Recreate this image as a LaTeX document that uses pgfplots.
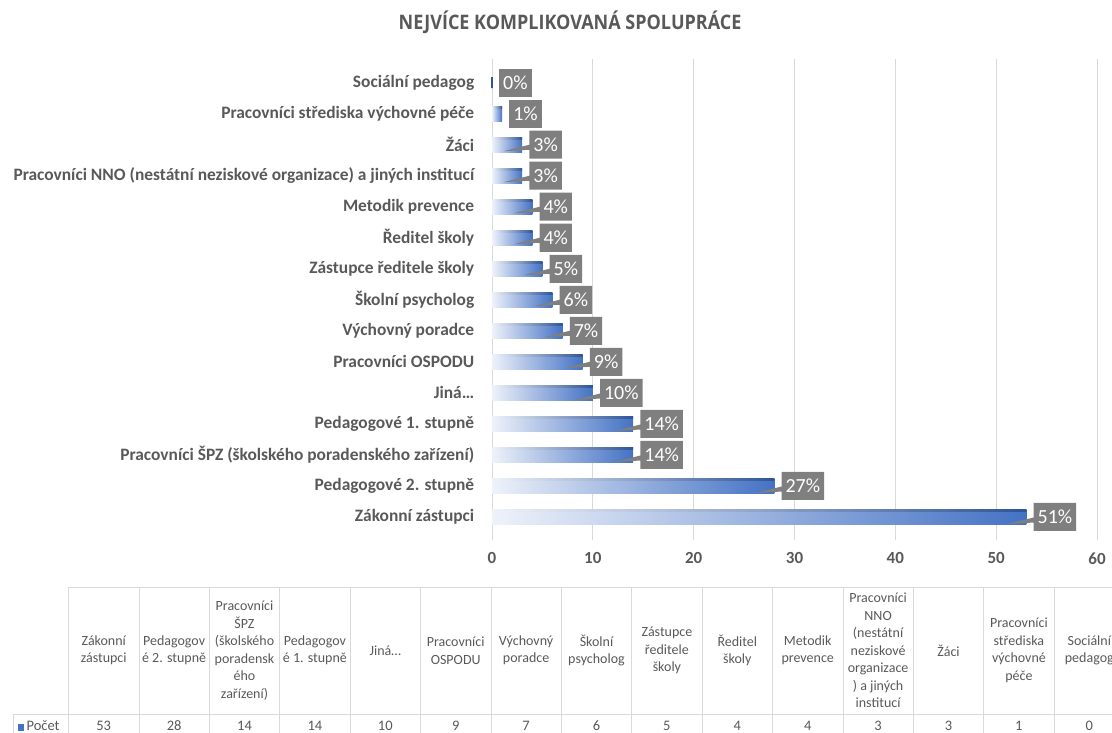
\documentclass[border=0pt]{standalone}
\usepackage{fontspec}
\setmainfont{Carlito}
\newfontfamily\titlefont[FakeStretch=0.9]{Open Sans}
\usepackage{pgfplots}
\pgfplotsset{compat=1.18}
\usepackage{pgfplotstable}
\usetikzlibrary{shapes.callouts}

\definecolor{barblue}{HTML}{4472C4}
\definecolor{barlight}{HTML}{EEF2FA}
\definecolor{bardark}{HTML}{2F5597}
\definecolor{txtgray}{HTML}{595959}
\definecolor{boxgray}{HTML}{7F7F7F}
\definecolor{gridgray}{HTML}{D9D9D9}

% label; count; percent of respondents
\pgfplotstableread[col sep=semicolon]{
label;value;pct
Zákonní zástupci;53;51
Pedagogové 2. stupně;28;27
Pracovníci ŠPZ (školského poradenského zařízení);14;14
Pedagogové 1. stupně;14;14
Jiná…;10;10
Pracovníci OSPODU;9;9
Výchovný poradce;7;7
Školní psycholog;6;6
Zástupce ředitele školy;5;5
Ředitel školy;4;4
Metodik prevence;4;4
Pracovníci NNO (nestátní neziskové organizace) a jiných institucí;3;3
Žáci;3;3
Pracovníci střediska výchovné péče;1;1
Sociální pedagog;0;0
}\data

\pgfplotsset{
  pctlabel/.style={draw=none, fill=none, bar shift=0pt,
    point meta=explicit,
    nodes near coords={\pgfmathprintnumber{\pgfplotspointmeta}\%},
    every node near coord/.append style={shape=rectangle callout,
        callout relative pointer={(-26pt,-4pt)}, callout pointer width=5pt,
        fill=boxgray, text=white,
        font=\fontsize{20}{20}\selectfont, anchor=west, xshift=7pt,
        inner xsep=4pt, minimum height=28pt}},
}

\begin{document}
\begin{tikzpicture}
\path[use as bounding box] (0pt,0pt) rectangle (1112pt,-733pt);

\node[font=\titlefont\bfseries\fontsize{20}{20}\selectfont, text=txtgray] at (570pt,-22pt) {NEJVÍCE KOMPLIKOVANÁ SPOLUPRÁCE};

\begin{axis}[
    at={(492pt,-540pt)}, anchor=south west, scale only axis,
    width=605pt, height=480.5pt,
    xbar, bar width=15pt,
    xmin=0, xmax=60, ymin=-0.75, ymax=14.75,
    xtick={0,10,...,60}, ytick={0,...,14},
    yticklabels from table={\data}{label},
    axis line style={draw=none}, major tick style={draw=none},
    xmajorgrids, grid style={gridgray, line width=0.8pt},
    /pgf/number format/assume math mode=true,
    xticklabel style={font=\bfseries\fontsize{17}{17}\selectfont, text=txtgray, yshift=-9pt},
    yticklabel style={font=\bfseries\fontsize{17.4}{17.4}\selectfont, text=txtgray, xshift=-10pt},
    clip=false,
]
% one plot per bar so that each bar gets its own gradient
\pgfplotsinvokeforeach{0,...,13}{
  \addplot[draw=none, bar shift=0pt, left color=barlight, middle color=barblue, right color=barblue]
    table[x=value, y expr=\coordindex, restrict expr to domain={\coordindex}{#1:#1}] {\data};
  \addplot[draw=none, bar shift=6.25pt, bar width=2.5pt, left color=barlight, middle color=bardark!80!barblue, right color=bardark]
    table[x=value, y expr=\coordindex, restrict expr to domain={\coordindex}{#1:#1}] {\data};
}
% zero bar: only a thin sliver
\addplot[fill=barblue, draw=bardark, line width=1.5pt, bar shift=0pt, bar width=11pt]
  table[x=value, y expr=\coordindex, restrict expr to domain={\coordindex}{14:14}] {\data};
% percentage labels (callouts); the two smallest as plain boxes
\addplot[pctlabel]
  table[x=value, y expr=\coordindex, meta=pct, restrict expr to domain={\coordindex}{0:12}] {\data};
\addplot[pctlabel, every node near coord/.append style={shape=rectangle}]
  table[x=value, y expr=\coordindex, meta=pct, restrict expr to domain={\coordindex}{13:14}] {\data};
\end{axis}

% data table under the chart
\begin{axis}[
    at={(68.5pt,-745pt)}, anchor=south west, scale only axis,
    width=1056pt, height=158pt,
    xmin=0, xmax=15, ymin=-745, ymax=-587,
    hide axis, clip=false,
    /pgf/number format/assume math mode=true,
    point meta=explicit,
    nodes near coords={\pgfmathprintnumber{\pgfplotspointmeta}},
    every node near coord/.append style={anchor=center,
        font=\fontsize{14.5}{14.5}\selectfont, text=txtgray},
]
\addplot[draw=none, mark=none] table[x expr=\coordindex+0.5, y expr=-726, meta=value] {\data};
\end{axis}

\begin{scope}[gridgray, line width=0.8pt]
  \draw (68.5pt,-587pt) -- (1125pt,-587pt);
  \draw (13pt,-714pt) -- (1125pt,-714pt);
  \draw (13pt,-714pt) -- (13pt,-745pt);
  \foreach \k in {0,...,15}
    \draw ({(68.5+70.4*\k)*1pt},-587pt) -- ({(68.5+70.4*\k)*1pt},-745pt);
\end{scope}

\foreach \t [count=\i from 0] in {
  {Zákonní\\zástupci}, {Pedagogov\\é 2. stupně},
  {Pracovníci\\ŠPZ\\(školského\\poradensk\\ého\\zařízení)},
  {Pedagogov\\é 1. stupně}, {Jiná…}, {Pracovníci\\OSPODU},
  {Výchovný\\poradce}, {Školní\\psycholog}, {Zástupce\\ředitele\\školy},
  {Ředitel\\školy}, {Metodik\\prevence},
  {Pracovníci\\NNO\\(nestátní\\neziskové\\organizace\\) a jiných\\institucí},
  {Žáci}, {Pracovníci\\střediska\\výchovné\\péče}, {Sociální\\pedagog}}
  \node[align=center, font=\fontsize{14}{17.5}\selectfont, text=txtgray, inner sep=0pt]
    at ({(68.5+70.4*(\i+0.5))*1pt},-650.5pt) {\t};

\node[anchor=west, font=\fontsize{14.5}{14.5}\selectfont, text=txtgray, inner sep=0pt]
  at (18pt,-726pt) {\textcolor{barblue}{\rule{6pt}{7pt}}\,Počet};
\end{tikzpicture}
\end{document}
